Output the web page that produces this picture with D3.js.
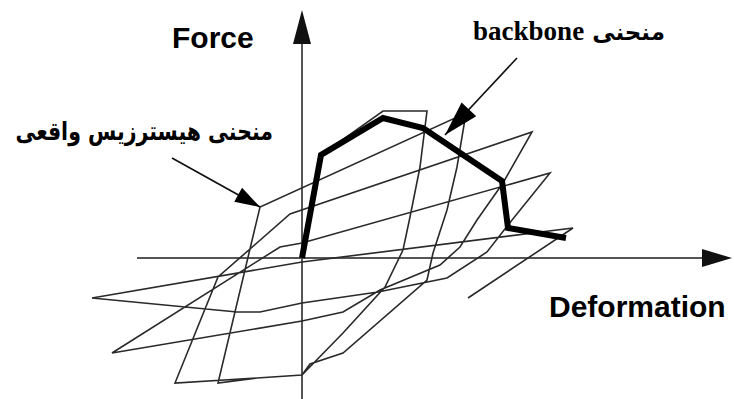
<!DOCTYPE html>
<html>
<head>
<meta charset="utf-8">
<script src="https://cdn.jsdelivr.net/npm/d3@7"></script>
<style>
  html, body { margin: 0; padding: 0; background: #fff; overflow: hidden; }
  svg { display: block; }
</style>
</head>
<body>
<svg id="chart" width="734" height="399"></svg>
<script>
// Cyclic response, in drawing order (deformation, force)
const hysteresisDeformation = [
  0, 1.9, 8.1, 12.5, 11.8, 10.8, 10.1, 8.3, 4.1, 0, -4.5, -8.4,
  -4.2, 16.4, 15.5, 14.5, 13.1, 12.5, 4.1, 0.8, 0, -4.5, -12.7,
  -8.4, -1.2, 23.0, 20.1, 17.5, 15.8, 13.8, 7.8, 4.1, 0, -19.0,
  -2.2, 0, 24.8, 20.6, 18.5, 14.5, 7.6, 0, -4.2, -6.5, -21.0,
  0, 27.1, 16.6
];
const hysteresisForce = [
  0, 10.3, 14.7, 14.7, 9.1, 4.1, 0.8, -2.9, -7.5, -11.7, -12.0, -12.5,
  5.1, 14.5, 9.1, 4.8, 0.5, -2.2, -9.5, -10.6, -11.7, -12.0, -12.5,
  -1.9, 4.4, 12.6, 7.5, 3.8, 1.1, -0.7, -3.2, -5.4, -6.3, -9.5,
  1.1, 1.5, 8.5, 3.3, 0.6, -2.0, -3.4, -4.5, -5.4, -5.4, -4.0,
  -0.4, 3.0, -4.0
];

// Envelope (backbone) through the peaks
const backboneDeformation = [0, 1.9, 8.1, 12.1, 20.0, 20.6, 26.4];
const backboneForce = [0, 10.3, 14.0, 13.0, 7.7, 3.0, 2.0];

// Axis extents and labels
const deformationExtent = [-16.5, 43.0];
const forceExtent = [-14.1, 24.8];
const axisTitles = ["Force", "Deformation"];

// Callouts: label text plus arrow from / to (deformation, force)
const backboneLabelWords = ["منحنی", "backbone"];
const hysteresisLabel = "منحنی هیسترزیس واقعی";
const backboneCallout = [[21.5, 20.0], [14.3, 12.3]];
const hysteresisCallout = [[-13.0, 10.0], [-4.2, 5.1]];

const svg = d3.select("#chart");

const x = d3.scaleLinear().domain(deformationExtent).range([137, 732]);
const y = d3.scaleLinear().domain(forceExtent).range([399, 10]);

const x0 = x(0), y0 = y(0);

// Axes: plain lines through the origin with solid arrowheads
const axisColor = "#555";
svg.append("line")
  .attr("x1", x(deformationExtent[0])).attr("y1", y0)
  .attr("x2", x(deformationExtent[1]) - 20).attr("y2", y0)
  .attr("stroke", axisColor).attr("stroke-width", 2);
svg.append("line")
  .attr("x1", x0).attr("y1", y(forceExtent[0]))
  .attr("x2", x0).attr("y2", y(forceExtent[1]) + 20)
  .attr("stroke", axisColor).attr("stroke-width", 2);

function head(tip, from, len, half, color) {
  const dx = tip[0] - from[0], dy = tip[1] - from[1];
  const d = Math.hypot(dx, dy), ux = dx / d, uy = dy / d;
  const bx = tip[0] - ux * len, by = tip[1] - uy * len;
  const pts = [tip, [bx - uy * half, by + ux * half], [bx + uy * half, by - ux * half]];
  svg.append("path")
    .attr("d", "M" + pts.map(p => p.join(",")).join("L") + "Z")
    .attr("fill", color);
}
head([x(deformationExtent[1]), y0], [x0, y0], 30, 9, "#111");
head([x0, y(forceExtent[1])], [x0, y0], 34, 9, "#111");

// Hysteresis loops
const pts = hysteresisDeformation.map((d, i) => [d, hysteresisForce[i]]);
const line = d3.line().x(d => x(d[0])).y(d => y(d[1]));
svg.append("path")
  .attr("d", line(pts))
  .attr("fill", "none")
  .attr("stroke", "#2a2a2a")
  .attr("stroke-width", 1.6)
  .attr("stroke-linejoin", "miter");

// Backbone
const bb = backboneDeformation.map((d, i) => [d, backboneForce[i]]);
svg.append("path")
  .attr("d", line(bb))
  .attr("fill", "none")
  .attr("stroke", "#000")
  .attr("stroke-width", 6)
  .attr("stroke-linejoin", "miter");

// Callout arrows
function callout(c, len, half) {
  const a = [x(c[0][0]), y(c[0][1])], b = [x(c[1][0]), y(c[1][1])];
  svg.append("line")
    .attr("x1", a[0]).attr("y1", a[1]).attr("x2", b[0]).attr("y2", b[1])
    .attr("stroke", "#111").attr("stroke-width", 1.6);
  head(b, a, len, half, "#000");
}
callout(backboneCallout, 35, 10);
callout(hysteresisCallout, 25, 8);

// Shrink a label's font until it fits the given width
function fitWidth(sel, maxW) {
  let fs = +sel.attr("font-size");
  while (sel.node().getComputedTextLength() > maxW && fs > 8) {
    fs -= 0.5;
    sel.attr("font-size", fs);
  }
}

// Texts
svg.append("text")
  .attr("x", 172).attr("y", 48)
  .attr("font-family", "Liberation Sans, Arial, sans-serif")
  .attr("font-weight", "bold").attr("font-size", 30)
  .attr("fill", "#000")
  .text(axisTitles[0]);

svg.append("text")
  .attr("x", 549).attr("y", 317)
  .attr("font-family", "Liberation Sans, Arial, sans-serif")
  .attr("font-weight", "bold").attr("font-size", 30)
  .attr("fill", "#000")
  .text(axisTitles[1]);

const bbText = svg.append("text")
  .attr("x", 665).attr("y", 40)
  .attr("direction", "rtl")
  .attr("text-anchor", "start")
  .attr("font-weight", "bold")
  .attr("fill", "#000");
bbText.append("tspan")
  .attr("font-family", "DejaVu Sans, sans-serif")
  .attr("font-size", 23)
  .text(backboneLabelWords[0] + " ");
bbText.append("tspan")
  .attr("font-family", "Liberation Serif, Times New Roman, serif")
  .attr("font-size", 27)
  .text(backboneLabelWords[1]);

// Persian caption, stretched a little vertically around its baseline
const hlGroup = svg.append("g")
  .attr("transform", "translate(0,140) scale(1,1.25)");
const hl = hlGroup.append("text")
  .attr("x", 273).attr("y", 0)
  .attr("text-anchor", "end")
  .attr("font-family", "DejaVu Sans, sans-serif")
  .attr("font-weight", "bold").attr("font-size", 22)
  .attr("fill", "#000")
  .text(hysteresisLabel);
fitWidth(hl, 260);
</script>
</body>
</html>
